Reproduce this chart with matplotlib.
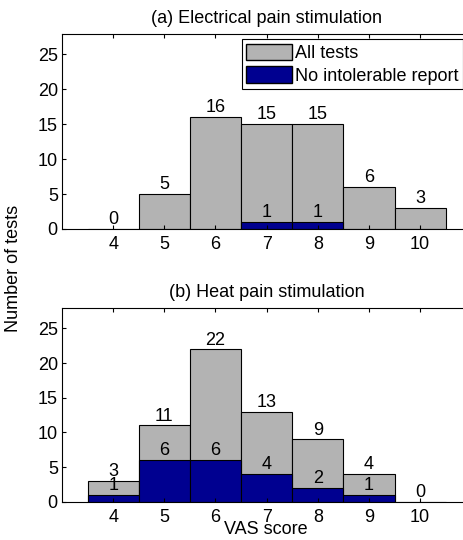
import numpy as np
import matplotlib
matplotlib.use('Agg')
import matplotlib.pyplot as plt
from matplotlib.patches import Patch

plt.rcParams['font.family'] = ['Liberation Sans', 'DejaVu Sans']
plt.rcParams['font.size'] = 13

vas = [4, 5, 6, 7, 8, 9, 10]
elec_all = [0, 5, 16, 15, 15, 6, 3]
elec_noint = [0, 0, 0, 1, 1, 0, 0]
heat_all = [3, 11, 22, 13, 9, 4, 0]
heat_noint = [1, 6, 6, 4, 2, 1, 0]

gray = '#b3b3b3'
navy = '#000090'

fig = plt.figure(figsize=(4.64, 5.4), dpi=100)
ax1 = fig.add_axes([0.1336, 0.576, 0.882, 0.361])
ax2 = fig.add_axes([0.1336, 0.071, 0.882, 0.358])


def draw(ax, all_v, sub_v, title):
    ax.bar(vas, all_v, width=1, color=gray, edgecolor='black', linewidth=0.8)
    nz = [v if v > 0 else np.nan for v in sub_v]
    ax.bar(vas, nz, width=1, color=navy, edgecolor='black', linewidth=0.8)
    for x, a, s in zip(vas, all_v, sub_v):
        ax.text(x, a + 0.1, str(a), ha='center', va='bottom', fontsize=13)
        if s > 0:
            ax.text(x, s + 0.1, str(s), ha='center', va='bottom', fontsize=13)
    ax.set_xlim(3, 11)
    ax.set_ylim(0, 27.9)
    ax.set_xticks(vas)
    ax.set_yticks([0, 5, 10, 15, 20, 25])
    ax.tick_params(direction='in', top=True, right=True, length=3, labelsize=13)
    ax.tick_params(axis='y', pad=3)
    ax.tick_params(axis='x', pad=5)
    ax.set_title(title, fontsize=13, pad=8)
    for sp in ax.spines.values():
        sp.set_linewidth(0.8)


draw(ax1, elec_all, elec_noint, '(a) Electrical pain stimulation')
draw(ax2, heat_all, heat_noint, '(b) Heat pain stimulation')

handles = [Patch(facecolor=gray, edgecolor='black', label='All tests'),
           Patch(facecolor=navy, edgecolor='black', label='No intolerable report')]
leg = ax1.legend(handles=handles, loc='upper right',
                 bbox_to_anchor=(463 / 464, 1 - 39 / 540),
                 bbox_transform=fig.transFigure, fancybox=False,
                 edgecolor='black', framealpha=1, handlelength=2.55,
                 handleheight=1.05, handletextpad=0.15, borderpad=0.25,
                 labelspacing=0.22, borderaxespad=0, fontsize=13)
leg.get_frame().set_linewidth(0.8)

fig.text(14 / 464, 1 - 268 / 540, 'Number of tests', rotation=90,
         ha='center', va='center', fontsize=13)
fig.text(266 / 464, 1 - 530 / 540, 'VAS score', ha='center', va='center',
         fontsize=13)

plt.savefig('out.png', dpi=100)
